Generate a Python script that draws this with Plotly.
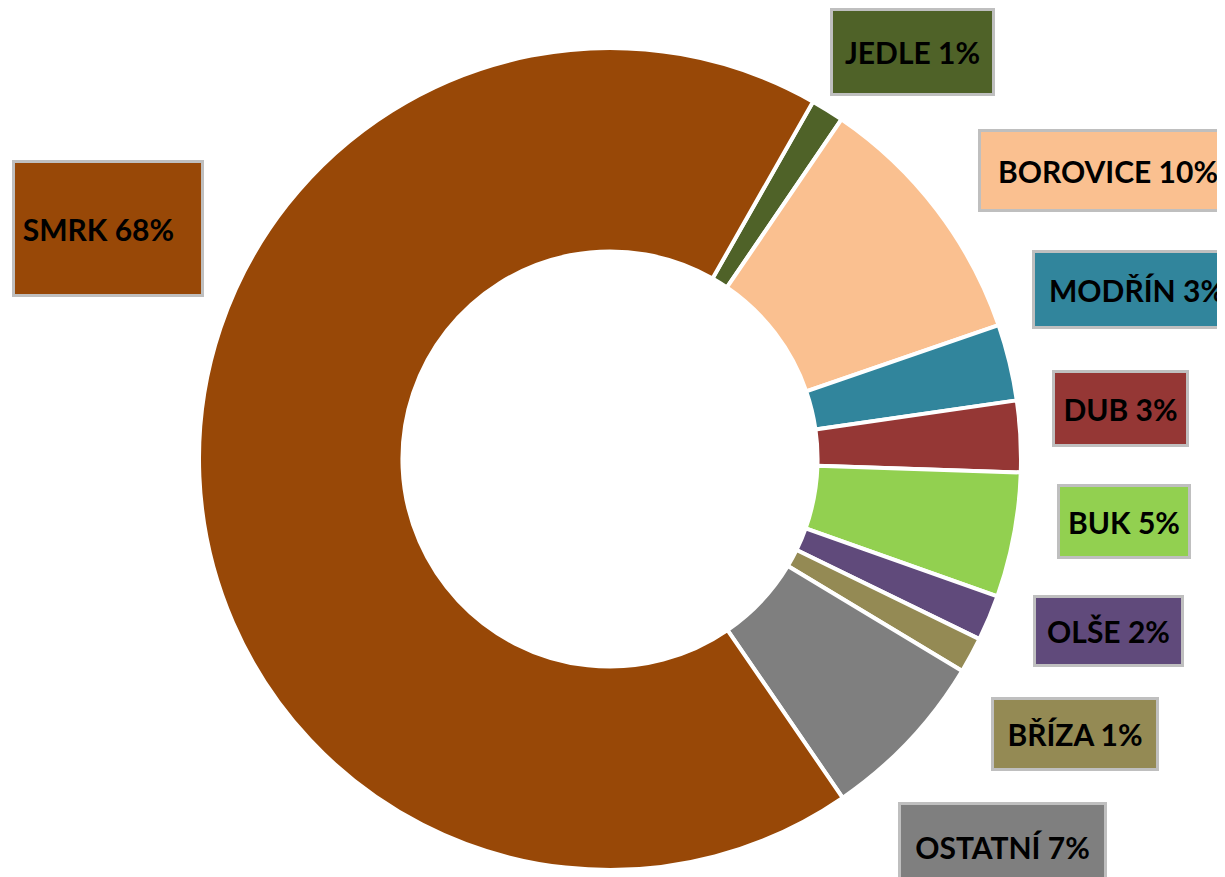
import plotly.graph_objects as go

# Data (share of tree species, %)
species = ["JEDLE", "BOROVICE", "MODŘÍN", "DUB", "BUK", "OLŠE", "BŘÍZA", "OSTATNÍ", "SMRK"]
shares = [1.3, 10.2, 3.0, 2.8, 4.9, 1.8, 1.4, 6.8, 67.8]
colors = ["#4f6228", "#fac090", "#31859c", "#953735", "#92d050",
          "#604a7b", "#948a54", "#7f7f7f", "#984807"]

W, H = 1225, 877
OX, OY = -9, -9  # page offset compensation

# Label box layout (pixels: left, top, width, height) - layout only
label_boxes = {
    "JEDLE": (831, 9, 165, 88),
    "BOROVICE": (979, 130, 260, 83),
    "MODŘÍN": (1033, 251, 210, 79),
    "DUB": (1053, 371, 137, 77),
    "BUK": (1058, 485, 134, 75),
    "OLŠE": (1034, 596, 151, 72),
    "BŘÍZA": (992, 698, 168, 74),
    "OSTATNÍ": (899, 803, 209, 90),
    "SMRK": (13, 161, 192, 137),
}

cx, cy, r = 611 + OX, 460 + OY, 411
fig = go.Figure(go.Pie(
    labels=species,
    values=shares,
    sort=False,
    direction="clockwise",
    rotation=29.6,
    hole=0.505,
    marker=dict(colors=colors, line=dict(color="white", width=4)),
    textinfo="none",
    showlegend=False,
    domain=dict(x=[(cx - r) / W, (cx + r) / W], y=[1 - (cy + r) / H, 1 - (cy - r) / H]),
))

total = sum(shares)
annotations = []
for name, val, col in zip(species, shares, colors):
    l, t, w, h = label_boxes[name]
    txt = f"<b>{name} {round(val / total * 100):d}%</b>"
    if name == "SMRK":
        txt = "&nbsp;" + txt
    annotations.append(dict(
        x=(l + OX) / W, y=1 - (t + OY) / H, xref="paper", yref="paper",
        xanchor="left", yanchor="top",
        text=txt,
        showarrow=False,
        width=w - 6, height=h - 6,
        align="left" if name == "SMRK" else "center",
        valign="middle",
        bgcolor=col, bordercolor="#bfbfbf", borderwidth=3, borderpad=0,
        font=dict(family="Lato", size=30, color="black"),
    ))

fig.update_layout(
    width=W, height=H,
    margin=dict(l=0, r=0, t=0, b=0),
    paper_bgcolor="white", plot_bgcolor="white",
    annotations=annotations,
)

fig.write_html("out.html")
